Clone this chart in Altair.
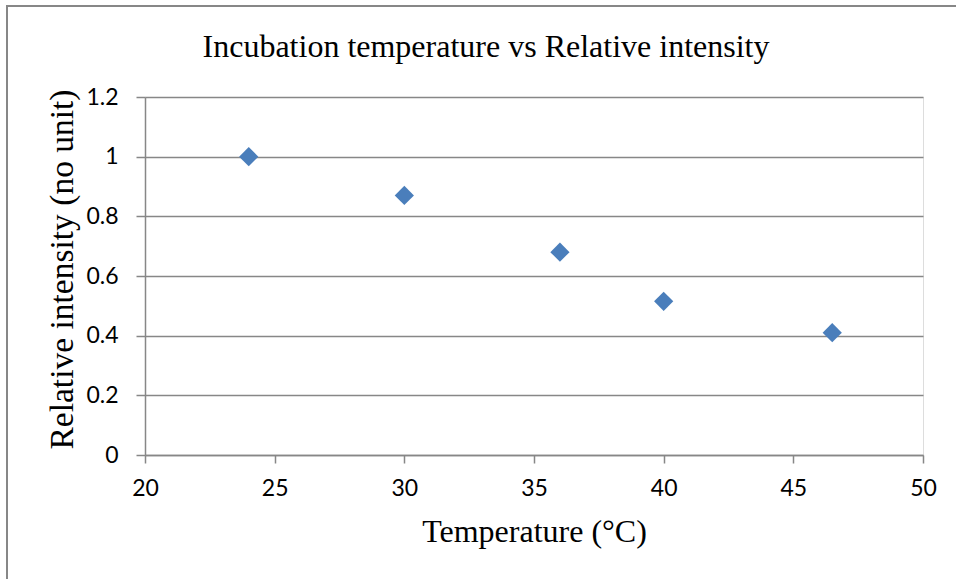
import altair as alt
import pandas as pd

# Incubation temperature (°C) and relative fluorescence intensity
temperature = [24, 30, 36, 40, 46.5]
intensity = [1.0, 0.87, 0.68, 0.515, 0.41]

x_ticks = [20, 25, 30, 35, 40, 45, 50]
y_ticks = [0, 0.2, 0.4, 0.6, 0.8, 1.0, 1.2]

chart_title = "Incubation temperature vs Relative intensity"

df = pd.DataFrame({"temperature": temperature, "intensity": intensity})

GRID = "#878787"
SERIF = "Liberation Serif"
SANS = "Lato"

points = alt.Chart(df).mark_point(
    shape="diamond", filled=True, size=370, color="#4a7ebb", opacity=1
).encode(
    x=alt.X(
        "temperature:Q",
        scale=alt.Scale(domain=[20, 50], nice=False, zero=False),
        axis=alt.Axis(
            values=x_ticks,
            title="Temperature (°C)",
            grid=False,
            domainColor=GRID,
            domainWidth=1.5,
            tickColor=GRID,
            tickWidth=1.5,
            tickSize=8,
            labelFont=SANS,
            labelFontSize=23,
            labelColor="black",
            labelPadding=14,
            labelFlush=False,
            titleFont=SERIF,
            titleFontSize=32,
            titleFontWeight="normal",
            titleColor="black",
            titleBaseline="alphabetic",
            titleY=86,
        ),
    ),
    y=alt.Y(
        "intensity:Q",
        scale=alt.Scale(domain=[0, 1.2], nice=False),
        axis=alt.Axis(
            values=y_ticks,
            format="~g",
            title="Relative intensity (no unit)",
            grid=True,
            gridColor=GRID,
            gridWidth=1.5,
            domainColor=GRID,
            domainWidth=1.5,
            tickColor=GRID,
            tickWidth=1.5,
            tickSize=9,
            labelFont=SANS,
            labelFontSize=23,
            labelColor="black",
            labelPadding=18,
            labelFlush=False,
            titleFont=SERIF,
            titleFontSize=33.5,
            titleFontWeight="normal",
            titleColor="black",
            titleBaseline="alphabetic",
            titleX=-73,
            titleY=172,
        ),
    ),
)

single = pd.DataFrame({"label": [chart_title]})

# Chart heading, centred over the whole figure
heading = alt.Chart(single).mark_text(
    font=SERIF, fontSize=32, color="black", align="center", baseline="alphabetic"
).encode(
    text="label:N", x=alt.value(341), y=alt.value(-40)
)

# Outer chart frame (left and top edges)
frame_left = alt.Chart(single).mark_rule(color=GRID, strokeWidth=2).encode(
    x=alt.value(-138), y=alt.value(-91), y2=alt.value(490)
)
frame_top = alt.Chart(single).mark_rule(color=GRID, strokeWidth=2).encode(
    x=alt.value(-139), x2=alt.value(820), y=alt.value(-91)
)

chart = (
    alt.layer(frame_left, frame_top, heading, points)
    .properties(
        width=778,
        height=358,
        autosize=alt.AutoSizeParams(type="none"),
        padding={"left": 145, "top": 97, "right": 33, "bottom": 124},
    )
    .configure_view(stroke=None)
    .configure(background="white")
)

chart.save("out.html", embed_options={"renderer": "svg", "actions": False})
